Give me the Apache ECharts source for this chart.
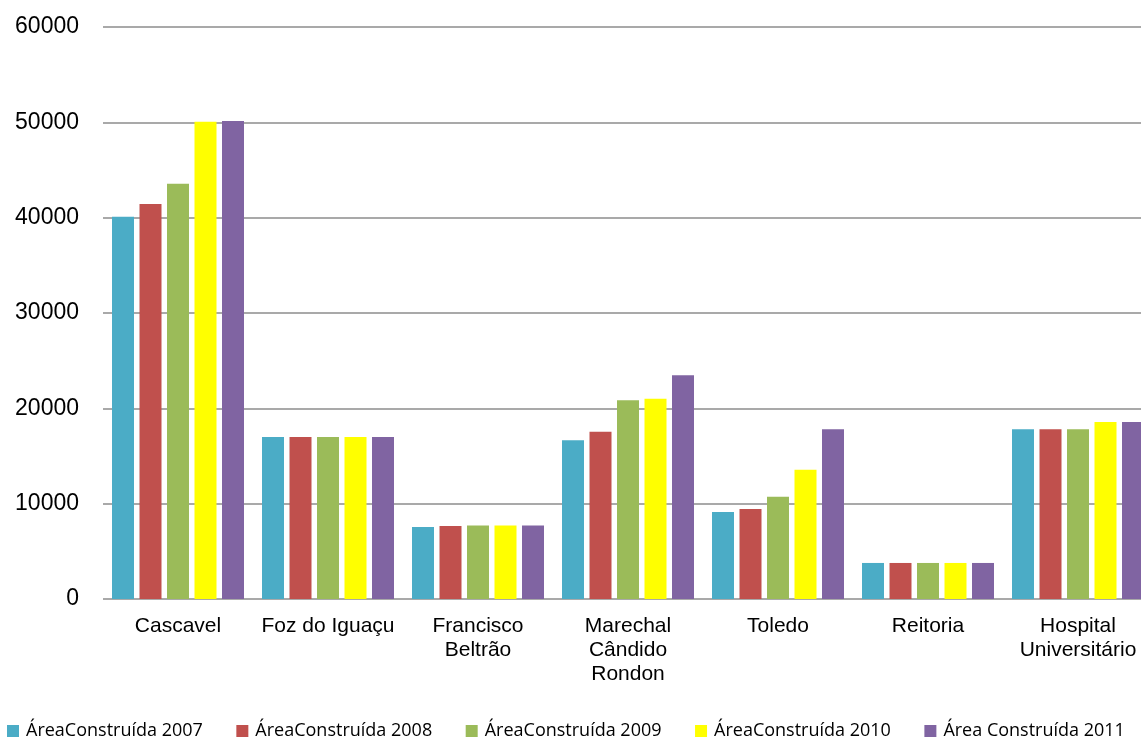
<!DOCTYPE html>
<html><head><meta charset="utf-8">
<script src="https://cdn.jsdelivr.net/npm/echarts@6/dist/echarts.min.js"></script>
<style>html,body{margin:0;padding:0;background:#fff;overflow:hidden;width:1141px;height:740px}#c{width:1153px;height:740px}</style>
</head><body><div id="c"></div>
<script>
const categories = ['Cascavel','Foz do Iguaçu','Francisco\nBeltrão','Marechal\nCândido\nRondon','Toledo','Reitoria','Hospital\nUniversitário'];
const seriesNames = ['ÁreaConstruída 2007','ÁreaConstruída 2008','ÁreaConstruída 2009','ÁreaConstruída 2010','Área Construída 2011'];
const v2007 = [40100, 17000, 7550, 16650, 9130, 3780, 17800];
const v2008 = [41430, 17000, 7650, 17550, 9440, 3780, 17800];
const v2009 = [43560, 17000, 7700, 20840, 10730, 3780, 17800];
const v2010 = [50070, 17000, 7700, 21010, 13560, 3780, 18570];
const v2011 = [50140, 17000, 7700, 23470, 17800, 3780, 18570];
const yTicks = [0, 10000, 20000, 30000, 40000, 50000, 60000];
const colors = ['#4bacc6','#c0504d','#9bbb59','#ffff00','#8064a2'];
const values = [v2007, v2008, v2009, v2010, v2011];

const chart = echarts.init(document.getElementById('c'));
chart.setOption({
  animation: false,
  color: colors,
  grid: {left: 103, right: 0, top: 27, bottom: 141},
  legend: {
    top: 717, left: 2, itemWidth: 12, itemHeight: 12, itemGap: 33.5, icon: 'rect',
    textStyle: {fontFamily: 'Open Sans', fontSize: 18, color: '#000', padding: [0,0,0,2]},
    data: seriesNames
  },
  xAxis: {
    type: 'category', data: categories,
    axisLine: {show: false}, axisTick: {show: false},
    axisLabel: {fontFamily: 'Liberation Sans, Arial', fontSize: 21, color: '#000', margin: 15, lineHeight: 24, interval: 0}
  },
  yAxis: {
    type: 'value', min: 0, max: 60000, interval: 10000,
    axisLine: {show: false}, axisTick: {show: false},
    axisLabel: {fontFamily: 'Liberation Sans, Arial', fontSize: 23, color: '#000', margin: 24,
      formatter: v => yTicks.includes(v) ? String(v) : ''},
    splitLine: {lineStyle: {color: '#8c8c8c', width: 1.5}}
  },
  series: values.map((d, i) => ({
    name: seriesNames[i], type: 'bar', data: d,
    barGap: '25%', barCategoryGap: '12%',
    itemStyle: {color: colors[i]}
  }))
});
</script></body></html>
